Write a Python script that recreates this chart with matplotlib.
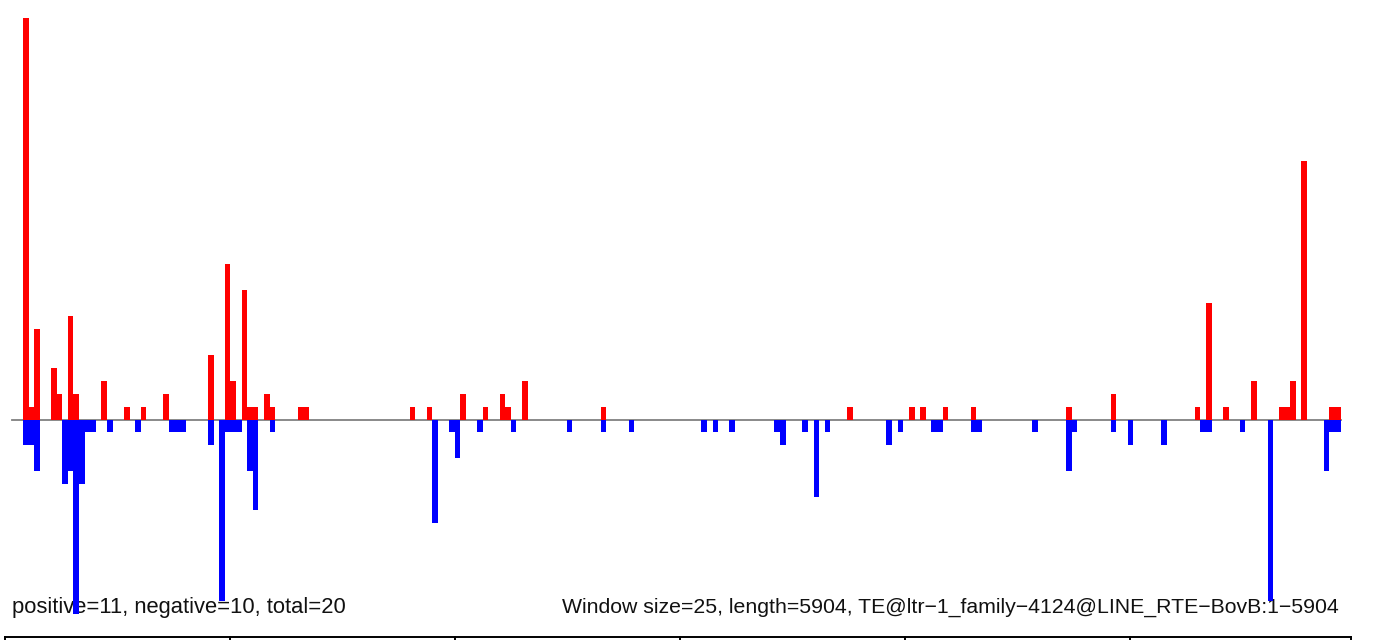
import matplotlib
matplotlib.use("Agg")
import matplotlib.pyplot as plt
import numpy as np

# window index (25 bp windows) and counts
n_windows = 235
pos_idx = [0, 1, 2, 5, 6, 8, 9, 14, 18, 21, 25, 33, 36, 37, 39, 40, 41, 43, 44, 49, 50,
           69, 72, 78, 82, 85, 86, 89, 103,
           147, 158, 160, 164, 169,
           186, 194, 209, 211, 214, 219, 224, 225, 226, 228, 233, 234]
pos_val = [31, 1, 7, 4, 2, 8, 2, 3, 1, 1, 2, 5, 12, 3, 10, 1, 1, 2, 1, 1, 1,
           1, 1, 2, 1, 2, 1, 3, 1,
           1, 1, 1, 1, 1,
           1, 2, 1, 9, 1, 3, 1, 1, 3, 20, 1, 1]
neg_idx = [0, 1, 2, 7, 8, 9, 10, 11, 12, 15, 20, 26, 27, 28, 33, 35, 36, 37, 38, 40, 41, 44,
           73, 76, 77, 81, 87, 97, 103, 108,
           121, 123, 126, 134, 135, 139, 141, 143, 154, 156, 162, 163, 169, 170,
           180, 186, 187, 194, 197, 203, 210, 211, 217, 222, 232, 233, 234]
neg_val = [2, 2, 4, 5, 4, 15, 5, 1, 1, 1, 1, 1, 1, 1, 2, 14, 1, 1, 1, 4, 7, 1,
           8, 1, 3, 1, 1, 1, 1, 1,
           1, 1, 1, 1, 2, 1, 6, 1, 2, 1, 1, 1, 1, 1,
           1, 4, 1, 1, 2, 2, 1, 1, 1, 14, 4, 1, 1]

label_left = "positive=11, negative=10, total=20"
label_right = ("Window size=25, length=5904, "
               "TE@ltr\u22121_family\u22124124@LINE_RTE\u2212BovB:1\u22125904")

W, H = 1380, 640
fig = plt.figure(figsize=(W / 100, H / 100), dpi=100)
ax = fig.add_axes([0, 0, 1, 1])
ax.axis("off")

# pixel layout of the plot region
x0, dx = 23.0, 5.607     # left edge of first bar, px per window
y0, dy = 419.5, 12.95    # baseline, px per count
ax.set_xlim(-x0 / dx, (W - x0) / dx)
ax.set_ylim(-(H - y0) / dy, y0 / dy)

ax.plot([-2, n_windows], [0, 0], color="#808080", lw=1.3, zorder=1)
ax.bar(pos_idx, pos_val, width=1, align="edge", color="#FF0000", linewidth=0, zorder=2)
ax.bar(neg_idx, -np.array(neg_val), width=1, align="edge", color="#0000FF",
       linewidth=0, zorder=2)

font = ["Liberation Sans", "DejaVu Sans"]
ax.text(12 / W, 1 - 613 / H, label_left, transform=ax.transAxes, ha="left",
        va="baseline", fontsize=15.8, family=font, color="#111111", zorder=1)
ax.text(1339 / W, 1 - 613 / H, label_right, transform=ax.transAxes, ha="right",
        va="baseline", fontsize=15.3, family=font, color="#111111", zorder=1)

# top edge of the panel below
yb = 1 - 636.5 / H
ax.plot([5 / W, 1351 / W], [yb, yb], color="black", lw=1.4,
        transform=ax.transAxes, clip_on=False)
for xt in [5, 230, 455, 680, 905, 1130, 1351]:
    ax.plot([xt / W, xt / W], [yb, 0], color="black", lw=1.4,
            transform=ax.transAxes, clip_on=False)

fig.savefig("out.png", dpi=100)
